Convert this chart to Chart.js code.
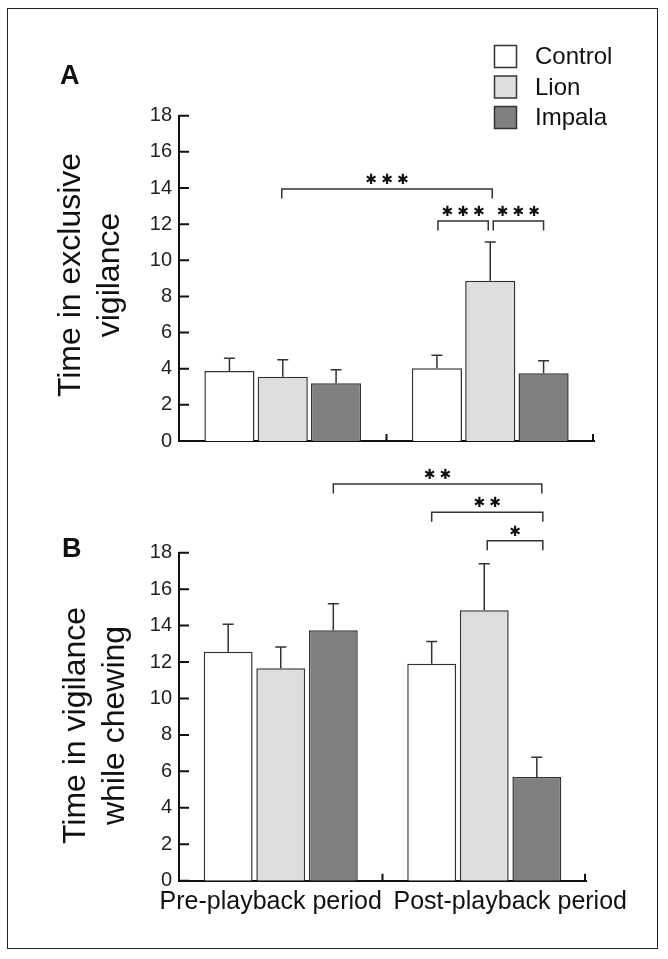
<!DOCTYPE html>
<html>
<head>
<meta charset="utf-8">
<script src="https://cdn.jsdelivr.net/npm/chart.js@4.4.1/dist/chart.umd.min.js"></script>
<style>
  html, body { margin: 0; padding: 0; background: #fff; }
  #page { position: relative; width: 668px; height: 959px; overflow: hidden; background: #fff; }
  #frame { position: absolute; left: 7px; top: 8px; width: 649px; height: 939px; border: 1.5px solid #222; }
  canvas { position: absolute; left: 0; }
  #chartA { top: 0; }
  #chartB { top: 460px; }
</style>
</head>
<body>
<div id="page">
  <div id="frame"></div>
  <canvas id="chartA" width="668" height="460"></canvas>
  <canvas id="chartB" width="668" height="499"></canvas>
</div>
<script>
const periods = ["Pre-playback period", "Post-playback period"];
const groups = ["Control", "Lion", "Impala"];

// A: time in exclusive vigilance (mean, SE)
const vigControl = [3.87, 4.03];
const vigLion = [3.55, 8.87];
const vigImpala = [3.2, 3.75];
const vigControlSE = [0.71, 0.72];
const vigLionSE = [0.94, 2.14];
const vigImpalaSE = [0.74, 0.69];

// B: time in vigilance while chewing (mean, SE)
const chewControl = [12.57, 11.91];
const chewLion = [11.66, 14.84];
const chewImpala = [13.74, 5.69];
const chewControlSE = [1.5, 1.21];
const chewLionSE = [1.17, 2.56];
const chewImpalaSE = [1.46, 1.08];

const yMin = 0;
const yMax = 18;
const yStep = 2;

// significance brackets: [dataset, index] pairs, bracket height in data units
const sigA = [
  { from: [1, 0], to: [1, 1], y: 13.94, stars: "***" },
  { from: [0, 1], to: [1, 1], y: 12.17, stars: "***" },
  { from: [1, 1], to: [2, 1], y: 12.17, stars: "***" }
];
const sigB = [
  { from: [2, 0], to: [2, 1], y: 21.77, stars: "**" },
  { from: [0, 1], to: [2, 1], y: 20.22, stars: "**" },
  { from: [1, 1], to: [2, 1], y: 18.66, stars: "*" }
];

const fills = ["#ffffff", "#dedede", "#808080"];
const edge = "#333333";
const FONT = '"Liberation Sans", Arial, sans-serif';

function makeDatasets(means, ses) {
  return groups.map((g, i) => ({
    label: g,
    data: means[i],
    se: ses[i],
    backgroundColor: fills[i],
    borderColor: edge,
    borderWidth: 1.5
  }));
}

function panelPlugin(o) {
  return {
    id: "panel" + o.letter,
    afterDatasetsDraw(chart) {
      const ctx = chart.ctx;
      const ys = chart.scales.y;
      ctx.save();
      ctx.strokeStyle = edge;
      ctx.lineWidth = 1.5;
      // error bars (upper only)
      chart.data.datasets.forEach((ds, di) => {
        chart.getDatasetMeta(di).data.forEach((bar, i) => {
          const top = ys.getPixelForValue(ds.data[i] + ds.se[i]);
          ctx.beginPath();
          ctx.moveTo(bar.x, bar.y);
          ctx.lineTo(bar.x, top);
          ctx.moveTo(bar.x - 5.5, top);
          ctx.lineTo(bar.x + 5.5, top);
          ctx.stroke();
        });
      });
      // brackets
      o.sig.forEach((s, k) => {
        const nud = o.nudge[k];
        const x1 = chart.getDatasetMeta(s.from[0]).data[s.from[1]].x + nud[0];
        const x2 = chart.getDatasetMeta(s.to[0]).data[s.to[1]].x + nud[1];
        const py = ys.getPixelForValue(s.y);
        ctx.beginPath();
        ctx.moveTo(x1, py + 9.5);
        ctx.lineTo(x1, py);
        ctx.lineTo(x2, py);
        ctx.lineTo(x2, py + 9.5);
        ctx.stroke();
        ctx.fillStyle = "#111";
        ctx.font = '14px "DejaVu Sans"';
        ctx.textAlign = "center";
        ctx.textBaseline = "middle";
        const n = s.stars.length;
        const cx = (x1 + x2) / 2;
        for (let j = 0; j < n; j++) {
          ctx.fillText("\u2731", cx + (j - (n - 1) / 2) * 15.8, py - 8.5);
        }
      });
      ctx.restore();
    },
    afterDraw(chart) {
      const ctx = chart.ctx;
      const xs = chart.scales.x;
      const ys = chart.scales.y;
      const area = chart.chartArea;
      ctx.save();
      ctx.strokeStyle = "#111";
      ctx.lineWidth = 2;
      ctx.beginPath();
      ys.ticks.forEach(t => {
        const py = ys.getPixelForValue(t.value);
        ctx.moveTo(area.left, py);
        ctx.lineTo(area.left + 10, py);
      });
      for (let i = 1; i < xs.ticks.length; i++) {
        const px = (xs.getPixelForTick(i - 1) + xs.getPixelForTick(i)) / 2;
        ctx.moveTo(px, area.bottom);
        ctx.lineTo(px, area.bottom - 7);
      }
      ctx.moveTo(area.right - 1, area.bottom);
      ctx.lineTo(area.right - 1, area.bottom - 7);
      ctx.stroke();

      // panel letter
      ctx.fillStyle = "#111";
      ctx.font = "bold 27px " + FONT;
      ctx.textAlign = "left";
      ctx.textBaseline = "alphabetic";
      ctx.fillText(o.letter, o.letterX, o.letterY);

      // y title, two lines
      ctx.font = "32px " + FONT;
      ctx.textAlign = "center";
      o.title.forEach((line, k) => {
        ctx.save();
        ctx.translate(o.titleX[k], o.titleCY);
        ctx.rotate(-Math.PI / 2);
        ctx.fillText(line, 0, 0);
        ctx.restore();
      });

      // category labels under the axis
      if (o.xLabels) {
        ctx.font = "25px " + FONT;
        ctx.textAlign = "center";
        chart.data.labels.forEach((lab, i) => {
          ctx.fillText(lab, xs.getPixelForTick(i) + o.xLabelShift[i], o.xLabelY);
        });
      }

      // legend
      if (o.legend) {
        ctx.font = "24px " + FONT;
        ctx.textAlign = "left";
        ctx.textBaseline = "middle";
        ctx.lineWidth = 1.5;
        ctx.strokeStyle = edge;
        chart.data.datasets.forEach((ds, i) => {
          const cy = 56.5 + i * 30.5;
          ctx.fillStyle = ds.backgroundColor;
          ctx.fillRect(494.5, cy - 11, 22, 22);
          ctx.strokeRect(494.5, cy - 11, 22, 22);
          ctx.fillStyle = "#111";
          ctx.fillText(ds.label, 535, cy + 1);
        });
      }
      ctx.restore();
    }
  };
}

function baseOptions(pad, catPct, barPct) {
  return {
    responsive: false,
    animation: false,
    devicePixelRatio: 1,
    layout: { padding: pad },
    datasets: { bar: { categoryPercentage: catPct, barPercentage: barPct } },
    plugins: { legend: { display: false }, tooltip: { enabled: false } },
    scales: {
      x: {
        z: 1,
        grid: { display: false },
        ticks: { display: false },
        border: { display: true, color: "#111", width: 2 },
        afterFit(s) { s.height = 0; }
      },
      y: {
        z: 1,
        min: yMin,
        max: yMax,
        ticks: { stepSize: yStep, padding: 7, color: "#222", font: { size: 20, family: FONT } },
        grid: { display: false, drawTicks: false },
        border: { display: true, color: "#111", width: 2 },
        afterFit(s) { s.width = 50; }
      }
    }
  };
}

new Chart(document.getElementById("chartA"), {
  type: "bar",
  data: {
    labels: periods,
    datasets: makeDatasets([vigControl, vigLion, vigImpala], [vigControlSE, vigLionSE, vigImpalaSE])
  },
  options: baseOptions({ left: 129, right: 74, top: 115.7, bottom: 18.3 }, 0.771, 0.94),
  plugins: [panelPlugin({
    letter: "A", letterX: 60, letterY: 84,
    title: ["Time in exclusive", "vigilance"], titleX: [80, 119], titleCY: 275,
    sig: sigA, nudge: [[-1, 2], [1, -2], [3, 0]],
    legend: true
  })]
});

new Chart(document.getElementById("chartB"), {
  type: "bar",
  data: {
    labels: periods,
    datasets: makeDatasets([chewControl, chewLion, chewImpala], [chewControlSE, chewLionSE, chewImpalaSE])
  },
  options: baseOptions({ left: 129, right: 82, top: 92.7, bottom: 78.3 }, 0.775, 0.93),
  plugins: [panelPlugin({
    letter: "B", letterX: 62, letterY: 97,
    title: ["Time in vigilance", "while chewing"], titleX: [85, 124], titleCY: 265.5,
    sig: sigB, nudge: [[0, 5], [0, 6], [3, 6]],
    xLabels: true, xLabelShift: [-10, 26], xLabelY: 449
  })]
});
</script>
</body>
</html>
